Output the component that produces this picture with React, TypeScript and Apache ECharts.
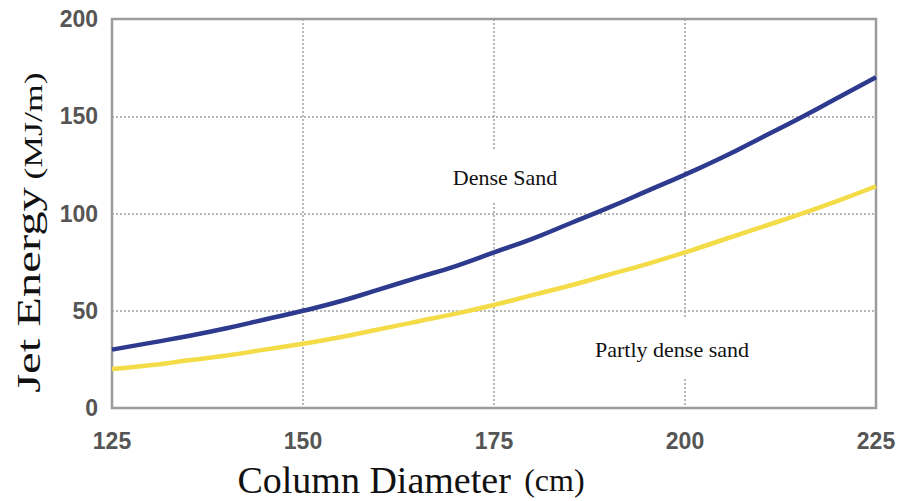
import React, { useEffect, useRef } from "react";
import * as echarts from "echarts";

const diameters = [125, 130, 135, 140, 145, 150, 155, 160, 165, 170, 175, 180, 185, 190, 195, 200, 205, 210, 215, 220, 225];
const denseSand = [30, 33.5, 37, 41, 45.5, 50, 55, 61, 67, 73, 80, 87, 95, 103, 111.5, 120, 129, 139, 149, 159.5, 170];
const partlyDense = [20, 22, 24.5, 27, 30, 33, 36.5, 40.5, 44.5, 48.5, 53, 58, 63, 68.5, 74, 80, 86.5, 93, 99.5, 106.5, 114];
const xTicks = [125, 150, 175, 200, 225];
const yTicks = [0, 50, 100, 150, 200];

export default function App() {
  const ref = useRef<HTMLDivElement>(null);
  useEffect(() => {
    if (!ref.current) return;
    const chart = echarts.init(ref.current, null, { renderer: "svg" });
    const serif = "'Liberation Serif', 'Times New Roman', serif";
    const sans = "'Liberation Sans', Arial, sans-serif";
    const gridLine = { show: true, lineStyle: { color: "#a0a0a0", type: [2, 2], width: 1.5 } };
    chart.setOption({
      animation: false,
      backgroundColor: "#ffffff",
      grid: { left: 112, right: 23, top: 19, bottom: 93, show: true, borderColor: "#9a9a9a", borderWidth: 2.5, backgroundColor: "transparent" },
      xAxis: {
        type: "value",
        min: xTicks[0],
        max: xTicks[xTicks.length - 1],
        interval: 25,
        axisLine: { show: false },
        axisTick: { show: false },
        splitLine: gridLine,
        axisLabel: { color: "#555", fontFamily: sans, fontSize: 23, fontWeight: "bold", margin: 21 },
      },
      yAxis: {
        type: "value",
        min: yTicks[0],
        max: yTicks[yTicks.length - 1],
        interval: 50,
        axisLine: { show: false },
        axisTick: { show: false },
        splitLine: gridLine,
        axisLabel: { color: "#555", fontFamily: sans, fontSize: 23, fontWeight: "bold", margin: 14 },
      },
      series: [
        {
          name: "Dense Sand",
          type: "line",
          smooth: true,
          showSymbol: false,
          data: diameters.map((d, i) => [d, denseSand[i]]),
          lineStyle: { color: "#2d3a8e", width: 4.5 },
          z: 3,
        },
        {
          name: "Partly dense sand",
          type: "line",
          smooth: true,
          showSymbol: false,
          data: diameters.map((d, i) => [d, partlyDense[i]]),
          lineStyle: { color: "#f3dc48", width: 4.5 },
          z: 2,
        },
      ],
      graphic: [
        {
          type: "text",
          x: 505,
          y: 177,
          z: 100,
          style: {
            text: "Dense Sand",
            font: `22px ${serif}`,
            fill: "#111",
            align: "center",
            verticalAlign: "middle",
            backgroundColor: "#fff",
            padding: [14, 6, 16, 6],
          },
        },
        {
          type: "text",
          x: 672,
          y: 349,
          z: 100,
          style: {
            text: "Partly dense sand",
            font: `22px ${serif}`,
            fill: "#111",
            align: "center",
            verticalAlign: "middle",
            backgroundColor: "#fff",
            padding: [10, 6, 28, 6],
          },
        },
        {
          type: "text",
          x: 411,
          y: 480,
          z: 100,
          style: {
            text: "{a|Column Diameter}    {b|(cm)}",
            align: "center",
            verticalAlign: "middle",
            fill: "#111",
            rich: {
              a: { fontFamily: serif, fontSize: 38, fill: "#111" },
              b: { fontFamily: serif, fontSize: 32, fill: "#111" },
            },
          },
        },
        {
          type: "text",
          x: 29,
          y: 290,
          rotation: Math.PI / 2,
          scaleX: 1.43,
          z: 100,
          style: {
            text: "Jet Energy",
            font: `34px ${serif}`,
            align: "center",
            verticalAlign: "middle",
            fill: "#111",
          },
        },
        {
          type: "text",
          x: 34,
          y: 126,
          rotation: Math.PI / 2,
          scaleX: 1.43,
          z: 100,
          style: {
            text: "(MJ/m)",
            font: `25px ${serif}`,
            align: "center",
            verticalAlign: "middle",
            fill: "#111",
          },
        },
      ],
    });
    return () => chart.dispose();
  }, []);
  return <div ref={ref} style={{ width: 899, height: 501, position: "absolute", left: 0, top: 0 }} />;
}
